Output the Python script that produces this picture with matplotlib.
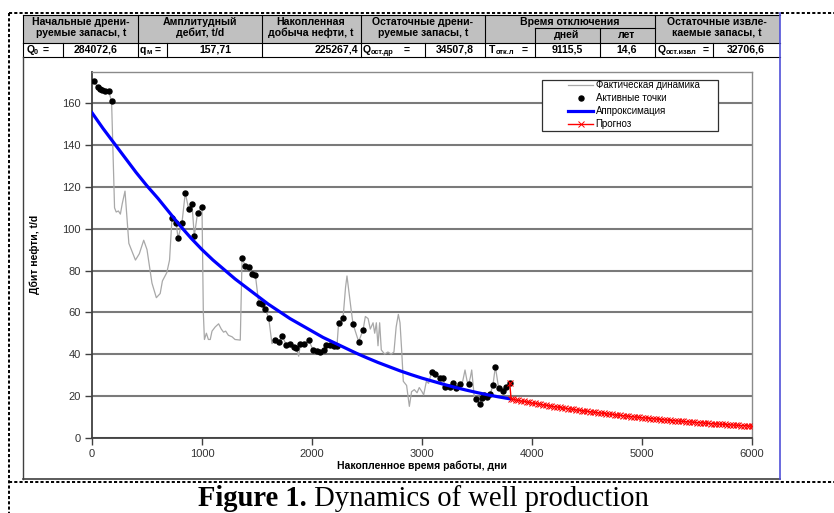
import matplotlib
matplotlib.use('Agg')
import matplotlib.pyplot as plt
from matplotlib.lines import Line2D
from matplotlib.patches import Rectangle

# ---------------- data ----------------
actual_days = [15, 50, 75, 95, 120, 150, 178, 205, 220, 240, 258, 275, 300, 318, 335, 365, 395, 430,
               470, 500, 545, 585, 620, 640, 680, 705, 716, 727, 766, 782, 818, 848, 879, 909, 930,
               960, 1000, 1012, 1022, 1040, 1058, 1075, 1091, 1120, 1151, 1175, 1196, 1215, 1240,
               1273, 1300, 1348, 1364, 1394, 1424, 1455, 1485, 1515, 1545, 1576, 1606, 1636, 1667,
               1703, 1730, 1766, 1803, 1833, 1857, 1879, 1894, 1930, 1970, 2009, 2045, 2076, 2106,
               2130, 2167, 2197, 2227, 2242, 2282, 2305, 2318, 2335, 2354, 2373, 2400, 2424, 2464,
               2485, 2510, 2530, 2555, 2570, 2585, 2600, 2615, 2630, 2660, 2690, 2720, 2745, 2765,
               2785, 2800, 2815, 2830, 2860, 2885, 2905, 2930, 2955, 2975, 3000, 3015, 3040, 3060,
               3080, 3091, 3121, 3161, 3191, 3212, 3252, 3282, 3312, 3342, 3370, 3391, 3410, 3424,
               3440, 3452, 3475, 3491, 3524, 3545, 3567, 3591, 3621, 3645, 3667, 3697, 3736, 3767,
               3797]
actual_vals = [170.5, 168, 167, 166.5, 166, 166, 161, 110, 108, 108.5, 107, 112, 118, 105, 93, 89, 85, 88,
               94.5, 90, 74, 67, 69, 75, 79, 85, 95, 105, 102.6, 95.4, 102.9, 117.2, 109.3, 111.7, 96.5,
               107.7, 110.2, 60, 47, 50, 47, 47, 51, 53, 54.5, 52, 50.5, 51, 49,
               48.3, 47, 46.7, 85.8, 82.2, 81.5, 78.2, 77.9, 64.6, 64, 61.4, 57.4, 45, 46.7,
               46, 48.7, 44.3, 44.7, 43.5, 42.8, 39, 44.7, 45, 46.7, 42, 41.6, 41.2, 42,
               44.3, 44.3, 44, 44, 55, 57.1, 72, 77.4, 70, 62, 54.4, 50, 46, 51.5,
               58, 57, 52, 55, 50, 55, 44, 55, 42, 40, 41, 40, 41, 53,
               59, 55, 42, 27, 25, 15, 22, 23, 21.5, 24, 22, 20.5, 27, 26,
               30, 31.6, 30.5, 28.7, 28.4, 24.4, 24.4, 26.3, 23.9, 25.5, 27, 32.4, 27, 25.7,
               29, 32.4, 19.6, 18.5, 16.1, 18.8, 20.4, 19.6, 20.9, 25.2, 34, 23.6, 22.5, 24.4,
               26.3]

active_days = [15, 50, 75, 95, 120, 150, 178, 727, 766, 782, 818, 848, 879, 909, 930, 960, 1000,
               1364, 1394, 1424, 1455, 1485, 1515, 1545, 1576, 1606, 1667, 1703, 1730, 1766, 1803,
               1833, 1857, 1894, 1930, 1970, 2009, 2045, 2076, 2106, 2130, 2167, 2197, 2227, 2242,
               2282, 2373, 2424, 2464, 3091, 3121, 3161, 3191, 3212, 3252, 3282, 3312, 3342, 3424,
               3491, 3524, 3545, 3567, 3591, 3621, 3645, 3667, 3697, 3736, 3767, 3797]
active_vals = [170.5, 168, 167, 166.5, 166, 166, 161, 105, 102.6, 95.4, 102.9, 117.2, 109.3, 111.7, 96.5, 107.7, 110.2,
               85.8, 82.2, 81.5, 78.2, 77.9, 64.6, 64, 61.4, 57.4, 46.7, 46, 48.7, 44.3, 44.7,
               43.5, 42.8, 44.7, 45, 46.7, 42, 41.6, 41.2, 42, 44.3, 44.3, 44, 44, 55,
               57.1, 54.4, 46, 51.5, 31.6, 30.5, 28.7, 28.4, 24.4, 24.4, 26.3, 23.9, 25.5, 25.7,
               18.5, 16.1, 18.8, 20.4, 19.6, 20.9, 25.2, 34, 23.6, 22.5, 24.4, 26.3]

approx_days = [0, 100, 200, 300, 400, 500, 600, 700, 800, 900, 1000, 1100, 1200, 1300, 1400, 1500,
               1600, 1700, 1800, 1900, 2000, 2100, 2200, 2300, 2400, 2500, 2600, 2700, 2800, 2900,
               3000, 3100, 3200, 3300, 3400, 3500, 3600, 3700, 3800]
approx_vals = [155.5, 148, 141, 134, 127, 120.5, 114.5, 108, 101.5, 95.5, 90, 85, 80.5, 76, 72, 68,
               64, 60.5, 57, 54, 51, 48, 45.5, 43, 40.5, 38.2, 36, 34, 32, 30.2,
               28.5, 27, 25.5, 24.1, 22.8, 21.6, 20.5, 19.5, 18.6]

forecast_days = [3797, 3810, 3825, 3850, 3875, 3900, 3925, 3950, 3975, 4000, 4025, 4050, 4075, 4100,
                 4125, 4150, 4175, 4200, 4225, 4250, 4275, 4300, 4325, 4350, 4375, 4400, 4425,
                 4450, 4475, 4500, 4525, 4550, 4575, 4600, 4625, 4650, 4675, 4700, 4725, 4750,
                 4775, 4800, 4825, 4850, 4875, 4900, 4925, 4950, 4975, 5000, 5025, 5050, 5075,
                 5100, 5125, 5150, 5175, 5200, 5225, 5250, 5275, 5300, 5325, 5350, 5375, 5400,
                 5425, 5450, 5475, 5500, 5525, 5550, 5575, 5600, 5625, 5650, 5675, 5700, 5725,
                 5750, 5775, 5800, 5825, 5850, 5875, 5900, 5925, 5950, 5975, 6000]
forecast_vals = [26.3, 18.55, 18.34, 18.09, 17.84, 17.60, 17.36, 17.12, 16.88, 16.65, 16.42, 16.20, 15.97, 15.75,
                 15.54, 15.32, 15.11, 14.90, 14.70, 14.50, 14.30, 14.10, 13.91, 13.72, 13.53, 13.34, 13.16,
                 12.98, 12.80, 12.62, 12.45, 12.28, 12.11, 11.94, 11.78, 11.62, 11.46, 11.30, 11.14, 10.99,
                 10.84, 10.69, 10.54, 10.40, 10.26, 10.12, 9.98, 9.84, 9.70, 9.57, 9.44, 9.31, 9.18,
                 9.06, 8.93, 8.81, 8.69, 8.57, 8.45, 8.33, 8.22, 8.11, 7.99, 7.88, 7.78, 7.67,
                 7.56, 7.46, 7.36, 7.26, 7.16, 7.06, 6.96, 6.87, 6.77, 6.68, 6.59, 6.50, 6.41,
                 6.32, 6.23, 6.15, 6.06, 5.98, 5.90, 5.82, 5.74, 5.66, 5.58, 5.50]

x_ticks = [0, 1000, 2000, 3000, 4000, 5000, 6000]
y_ticks = [0, 20, 40, 60, 80, 100, 120, 140, 160]

series_labels = ['Фактическая динамика', 'Активные точки', 'Аппроксимация', 'Прогноз']

header_texts = [('Начальные дрени-', 'руемые запасы, t'),
                ('Амплитудный', 'дебит, t/d'),
                ('Накопленная', 'добыча нефти, t'),
                ('Остаточные дрени-', 'руемые запасы, t'),
                ('Время отключения', None),
                ('Остаточные извле-', 'каемые запасы, t')]
sub_headers = ['дней', 'лет']
table_values = ['284072,6', '157,71', '225267,4', '34507,8', '9115,5', '14,6', '32706,6']

# ---------------- figure ----------------
W, H = 834, 513
SANS = 'Liberation Sans'
plt.rcParams['font.family'] = [SANS, 'DejaVu Sans']
fig = plt.figure(figsize=(W / 100, H / 100), dpi=100)


def X(px):
    return px / W


def Y(py):
    return 1 - py / H


def fline(x0, y0, x1, y1, color='black', lw=0.8, **kw):
    fig.add_artist(Line2D([X(x0), X(x1)], [Y(y0), Y(y1)], color=color, lw=lw,
                          transform=fig.transFigure, **kw))


def ftext(px, py, s, size=7.6, ha='center', va='center', weight='bold', **kw):
    return fig.text(X(px), Y(py), s, fontsize=size, ha=ha, va=va, fontweight=weight,
                    family=[SANS, 'DejaVu Sans'], **kw)


# dashed outer frame
dash = dict(ls=(0, (1.6, 1.1)), lw=1.4)
fline(9, 13, 834, 13, **dash)
fline(9, 482, 834, 482, **dash)
fline(9, 13, 9, 513, **dash)

# table
fig.add_artist(Rectangle((X(23), Y(43)), X(780) - X(23), Y(15) - Y(43), facecolor='#c0c0c0',
                         edgecolor='none', transform=fig.transFigure))
fline(23, 15, 780, 15)
fline(23, 43, 780, 43)
fline(23, 57, 780, 57)
for xv in [23, 138, 262, 361, 485, 655]:
    fline(xv, 15, xv, 43)
fline(535, 28, 655, 28)
fline(535, 28, 535, 43)
fline(600, 28, 600, 43)
for xv in [23, 63, 138, 167, 262, 361, 425, 485, 535, 600, 655, 713]:
    fline(xv, 43, xv, 57)

col_centers = [81, 200, 311, 423, 570, 717]
for (l1, l2), cx in zip(header_texts, col_centers):
    ftext(cx, 22, l1)
    if l2:
        ftext(cx, 33, l2)
ftext(567, 35.5, sub_headers[0])
ftext(627, 35.5, sub_headers[1])


# data row labels with subscripts
def sym(x_base, base, x_sub, sub, x_eq):
    ftext(x_base, 50, base, ha='left')
    ftext(x_sub, 52.5, sub, size=5.3, ha='left')
    ftext(x_eq, 50, '=', ha='left')


sym(27, 'Q', 34, '0', 43)
sym(140, 'q', 146.5, 'м', 155)
sym(363, 'Q', 371, 'ост.др', 404)
sym(489, 'T', 496, 'отк.л', 522)
sym(658, 'Q', 666, 'ост.извл', 703)

ftext(96, 50, table_values[0])
ftext(215, 50, table_values[1])
ftext(358, 50, table_values[2], ha='right')
ftext(455, 50, table_values[3])
ftext(567, 50, table_values[4])
ftext(627, 50, table_values[5])
ftext(746, 50, table_values[6])

# chart area border
fline(23, 57, 23, 479, color='#404040', lw=1.0)
fline(23, 479, 780, 479, color='#404040', lw=1.2)
fline(780, 13, 780, 479, color='#5050d8', lw=1.2)

# ---------------- axes ----------------
ax = fig.add_axes([X(92), Y(437.7), X(752) - X(92), Y(72) - Y(437.7)])
ax.set_xlim(0, 6000)
ax.set_ylim(0, 175)

ax.plot(actual_days, actual_vals, color='#a8a8a8', lw=0.9, label=series_labels[0], zorder=3)
ax.plot(active_days, active_vals, ls='none', marker='o', color='black', ms=3.6, label=series_labels[1], zorder=4)
ax.plot(approx_days, approx_vals, color='#0000ff', lw=2.3, label=series_labels[2], zorder=5)
ax.plot(forecast_days, forecast_vals, color='#ff0000', lw=1.0, marker='x', ms=4.6, mew=0.7,
        label=series_labels[3], zorder=5)

ax.set_xticks(x_ticks)
ax.set_yticks(y_ticks)
ax.tick_params(axis='both', direction='out', length=5, width=1, color='#404040',
               labelsize=8, labelcolor='#333333', pad=3)
ax.yaxis.grid(True, color='#7a7a7a', lw=1.5)
ax.set_axisbelow(True)
for s in ['top', 'right']:
    ax.spines[s].set_color('#8a8a8a')
    ax.spines[s].set_linewidth(1.0)
for s in ['left', 'bottom']:
    ax.spines[s].set_color('#404040')
    ax.spines[s].set_linewidth(1.3)

ax.set_ylabel('Дбит нефти, t/d', fontsize=7.5, fontweight='bold')
ax.yaxis.set_label_coords(-0.079, 0.5)
ax.set_xlabel('Накопленное время работы, дни', fontsize=7.5, fontweight='bold')
ax.xaxis.set_label_coords(0.5, -0.062)

# legend box
ax.add_patch(Rectangle(((542 - 92) / 660, (437.7 - 131) / 365.7), (718 - 542) / 660, 51 / 365.7,
                       transform=ax.transAxes, facecolor='white', edgecolor='#303030', lw=0.9,
                       zorder=6, clip_on=False))
leg = ax.legend(loc='upper left', bbox_to_anchor=((568 - 92) / 660, (437.7 - 80.5) / 365.7),
                frameon=False, borderpad=0, borderaxespad=0, handlelength=2.6,
                handletextpad=0.25, labelspacing=0.3, fontsize=7, numpoints=1)
leg.set_zorder(7)

# caption
t1 = fig.text(X(198), Y(505.5), 'Figure 1.', fontsize=20.6, fontweight='bold',
              family='Liberation Serif', ha='left', va='baseline')
fig.canvas.draw()
bb = t1.get_window_extent()
fig.text(bb.x1 / W, Y(505.5), ' Dynamics of well production', fontsize=20.6,
         family='Liberation Serif', ha='left', va='baseline')

fig.savefig('out.png', dpi=100)
